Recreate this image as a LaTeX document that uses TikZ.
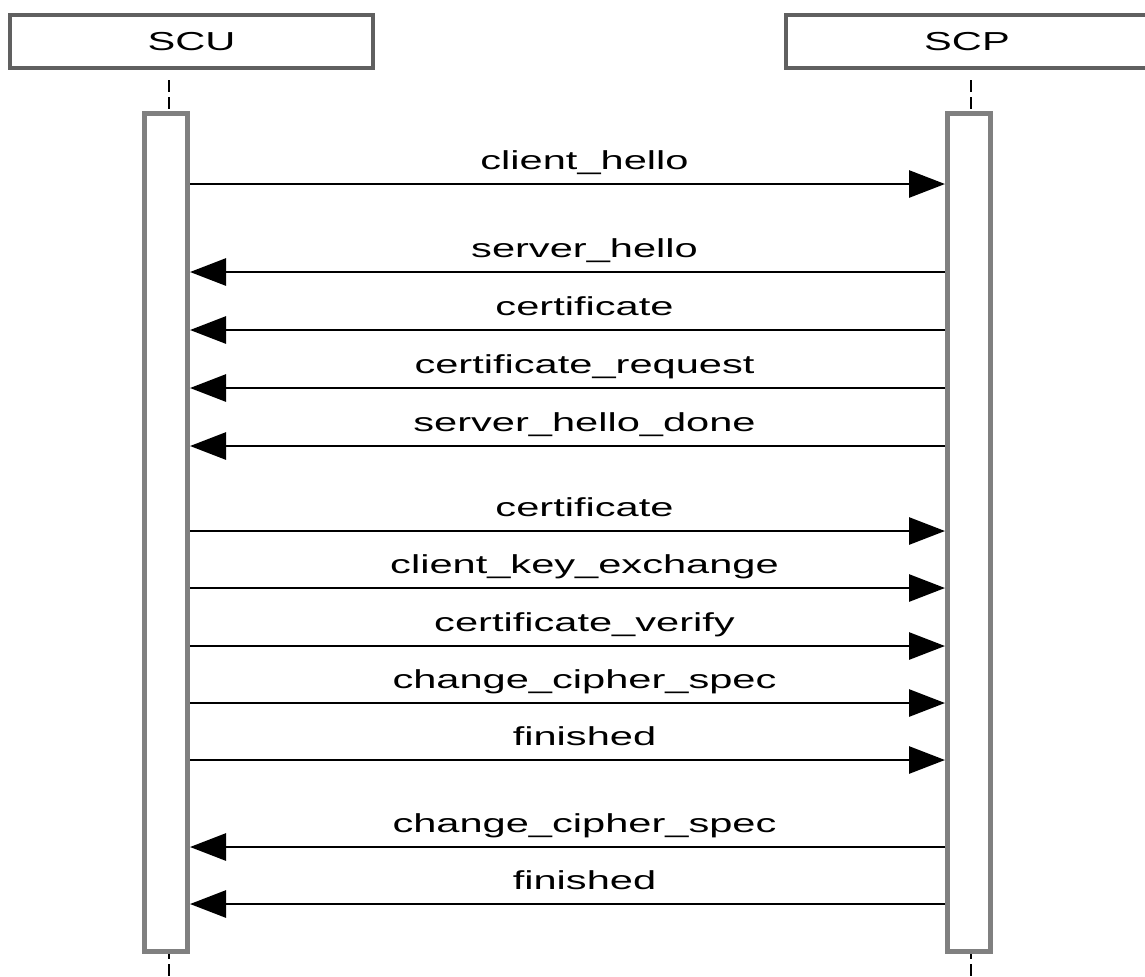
\documentclass[tikz,border=0pt]{standalone}
\usepackage{fontspec}
\setmainfont[FakeStretch=1.6]{Liberation Sans}
\usetikzlibrary{positioning,arrows.meta}

\begin{document}
\begin{tikzpicture}[x=0.5pt, y=-0.5pt,
        actor/.style={draw=gray!75!black, line width=2pt, rectangle, minimum width=181.5pt, minimum height=26.5pt, inner sep=0pt, font=\fontsize{13}{15}\selectfont},
        bar/.style={draw=gray, line width=2.5pt, fill=white, rectangle, minimum width=21.5pt, minimum height=419pt, inner sep=0pt},
        lifeline/.style={line width=1pt, dash pattern=on 6pt off 2.5pt},
        msg/.style={line width=1.4pt, -{Triangle[length=18pt,width=13.5pt]}},
        lbl/.style={anchor=base, font=\fontsize{13}{15}\selectfont, inner sep=0pt, xshift=8.5pt, yshift=7.5pt}
    ]
        \clip (0,0) rectangle (1145,976);

        \node [actor] (scu) at (191.5,41.5) {SCU};
        \node [actor] (scp) at (967,41.5) {SCP};

        \coordinate (scutop) at (169,80);
        \coordinate (scptop) at (971,80);
        \draw [lifeline] (scutop) -- (169,990);
        \draw [lifeline] (scptop) -- (971,990);

        \node [bar] (scubar) at (166,532.5) {};
        \node [bar] (scpbar) at (969,532.5) {};

        % messages
        \draw [msg] (scubar.east |- 0,184) -- node[lbl, midway]{client\_hello} (scpbar.west |- 0,184);
        \draw [msg] (scpbar.west |- 0,272) -- node[lbl, midway]{server\_hello} (scubar.east |- 0,272);
        \draw [msg] (scpbar.west |- 0,330) -- node[lbl, midway]{certificate} (scubar.east |- 0,330);
        \draw [msg] (scpbar.west |- 0,388) -- node[lbl, midway]{certificate\_request} (scubar.east |- 0,388);
        \draw [msg] (scpbar.west |- 0,446) -- node[lbl, midway]{server\_hello\_done} (scubar.east |- 0,446);
        \draw [msg] (scubar.east |- 0,531) -- node[lbl, midway]{certificate} (scpbar.west |- 0,531);
        \draw [msg] (scubar.east |- 0,588) -- node[lbl, midway]{client\_key\_exchange} (scpbar.west |- 0,588);
        \draw [msg] (scubar.east |- 0,646) -- node[lbl, midway]{certificate\_verify} (scpbar.west |- 0,646);
        \draw [msg] (scubar.east |- 0,703) -- node[lbl, midway]{change\_cipher\_spec} (scpbar.west |- 0,703);
        \draw [msg] (scubar.east |- 0,760) -- node[lbl, midway]{finished} (scpbar.west |- 0,760);
        \draw [msg] (scpbar.west |- 0,847) -- node[lbl, midway]{change\_cipher\_spec} (scubar.east |- 0,847);
        \draw [msg] (scpbar.west |- 0,904) -- node[lbl, midway]{finished} (scubar.east |- 0,904);

    \end{tikzpicture}
\end{document}
